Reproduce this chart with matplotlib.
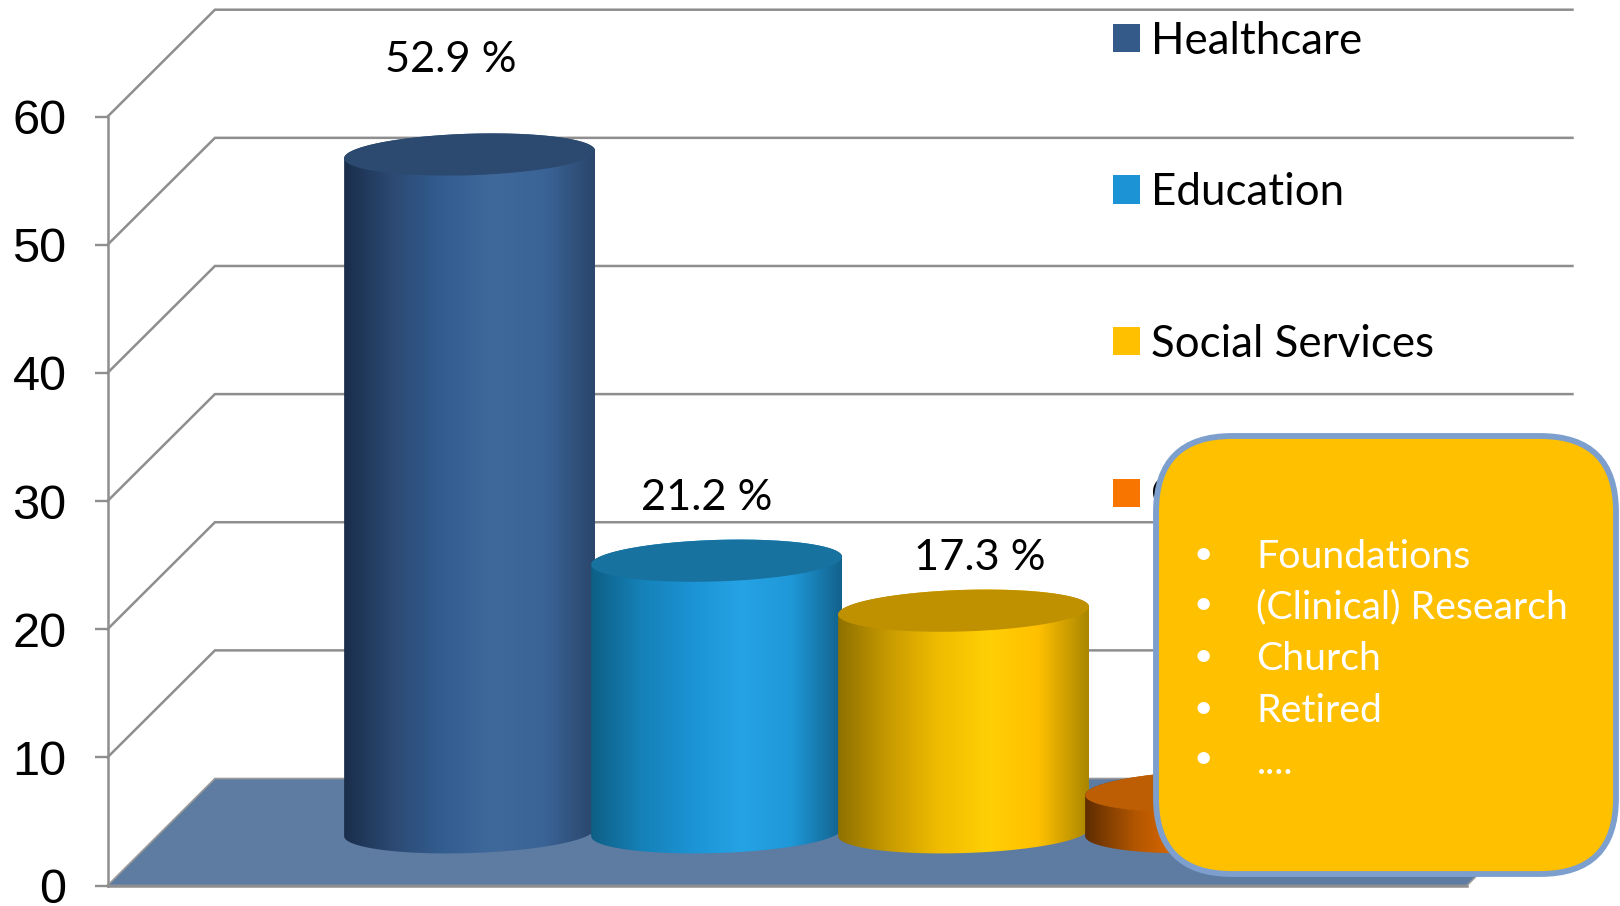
import numpy as np
import matplotlib
matplotlib.use("Agg")
import matplotlib.pyplot as plt
from matplotlib.colors import LinearSegmentedColormap
from matplotlib.patches import Polygon, Patch, FancyBboxPatch, PathPatch
from matplotlib.path import Path

# ---- data ----
categories = ["Healthcare", "Education", "Social Services", "Other"]
values = [52.9, 21.2, 17.3, 3.2]
value_labels = ["52.9 %", "21.2 %", "17.3 %", None]
y_ticks = [0, 10, 20, 30, 40, 50, 60]
callout_items = ["Foundations", "(Clinical) Research", "Church", "Retired", "...."]

# ---- style ----
legend_colors = ["#345A8A", "#1C93D4", "#FFC000", "#F87600"]
top_colors = ["#2C4A70", "#17729F", "#BF9000", "#BE5E04"]
side_colors = [
    ["#1A2E4B", "#2C4A74", "#335E92", "#40699B", "#3A6496", "#2A466C"],
    ["#0E5F85", "#1581B8", "#1C93D4", "#25A3E5", "#1F98D8", "#12628C"],
    ["#8F7100", "#C79A00", "#F0BC00", "#FFCF05", "#FFC000", "#A98600"],
    ["#5F2D00", "#B25600", "#E56C00", "#F87600", "#F87600", "#A85200"],
]
GRID = "#8E8E8E"
FLOOR = "#5E7BA1"
DEPTH_X, DEPTH_Y = 0.435, 8.35
BACK_RIGHT_TRIM = 0.008
BASE = 4.15
CYL_WIDTH = 1.016
ELL_B, ELL_S = 1.62, 0.30
label_dx = [-0.075, -0.04, 0.065]
label_dy = [11.5, 9.05, 8.25]

plt.rcParams["font.family"] = ["Liberation Sans"]
W, H = 1620, 906
fig = plt.figure(figsize=(W / 100, H / 100), dpi=100, facecolor="white")
ax = fig.add_axes([107.5 / W, 1 - 885.5 / H, (1467 - 107.5) / W, (885.5 - 116.7) / H])
x0, x1 = -1.466, 4.038
ax.set_xlim(x0, x1)
ax.set_ylim(0, 60)
ax.patch.set_visible(False)
for s in ["top", "right"]:
    ax.spines[s].set_visible(False)
for s in ["left", "bottom"]:
    ax.spines[s].set_color(GRID)
    ax.spines[s].set_linewidth(1.8)
ax.set_xticks([])
ax.set_yticks(y_ticks)
ax.tick_params(axis="y", length=9.6, width=1.7, color=GRID, labelsize=35, pad=20, labelcolor="black")

# back wall and floor
xr = x1 + DEPTH_X - BACK_RIGHT_TRIM
ax.add_patch(Polygon([(x0, 0), (x1, 0), (xr, DEPTH_Y), (x0 + DEPTH_X, DEPTH_Y)],
                     closed=True, facecolor=FLOOR, edgecolor="#9A9A9A", lw=1.2, clip_on=False, zorder=1))
for t in y_ticks[1:]:
    ax.plot([x0, x0 + DEPTH_X, xr], [t, t + DEPTH_Y, t + DEPTH_Y],
            color=GRID, lw=1.8, clip_on=False, zorder=0.5, solid_joinstyle="miter")

# cylinders
def ring(cx, yc, t):
    a = CYL_WIDTH / 2
    return np.column_stack([cx + a * np.cos(t), yc + ELL_B * np.sin(t) + ELL_S * np.cos(t)])

for i, v in enumerate(values):
    top = BASE + v
    z = 2 + i
    low = ring(i, BASE, np.linspace(np.pi, 2 * np.pi, 120))
    back = ring(i, top, np.linspace(0, np.pi, 120))
    verts = np.vstack([low, back, low[:1]])
    clip = PathPatch(Path(verts), transform=ax.transData, facecolor="none", edgecolor="none")
    ax.add_patch(clip)
    cmap = LinearSegmentedColormap.from_list("side", side_colors[i])
    a = CYL_WIDTH / 2
    im = ax.imshow(np.linspace(0, 1, 256)[None, :], cmap=cmap, aspect="auto",
                   extent=(i - a, i + a, BASE - 3, top + 3), zorder=z, interpolation="bilinear")
    im.set_clip_path(clip)
    ax.add_patch(Polygon(ring(i, top, np.linspace(0, 2 * np.pi, 240)), closed=True,
                         facecolor=top_colors[i], edgecolor="none", zorder=z + 0.1, clip_on=False))
    if value_labels[i]:
        ax.text(i + label_dx[i], v + label_dy[i], value_labels[i], family="Lato", fontsize=31.2,
                ha="center", va="center", color="black", zorder=8, clip_on=False)
ax.set_xlim(x0, x1)
ax.set_ylim(0, 60)

# legend
FS = 31.6
handle = 27 * 0.72 / FS
leg = fig.legend(handles=[Patch(facecolor=c, label=n) for c, n in zip(legend_colors, categories)],
                 loc="upper left", bbox_to_anchor=(1113 / W, 1 - 20.5 / H), bbox_transform=fig.transFigure,
                 frameon=False, prop={"family": "Lato", "size": FS}, labelspacing=2.52,
                 handlelength=handle, handleheight=handle, handletextpad=0.25,
                 borderpad=0, borderaxespad=0)

# callout overlay (pixel coordinates)
ov = fig.add_axes([0, 0, 1, 1], zorder=10)
ov.set_xlim(0, W)
ov.set_ylim(H, 0)
ov.axis("off")
ov.add_patch(FancyBboxPatch((1156, 436), 460, 438, boxstyle="round,pad=0,rounding_size=76",
                            facecolor="#FFC000", edgecolor="#7C9FCE", lw=4.2))
ys = [556.5, 607.5, 659.5, 710.5, 762.5]
bullet_off = [-2, -2, -2, -2, -3.5]
for y, off, item in zip(ys, bullet_off, callout_items):
    ov.text(1203, y + off, "\u2022", color="white", fontsize=24, family="Lato", ha="center", va="center")
    ov.text(1256.5, y, item, color="white", fontsize=28.3, family="Lato", ha="left", va="center")

fig.savefig("out.png", dpi=100)
